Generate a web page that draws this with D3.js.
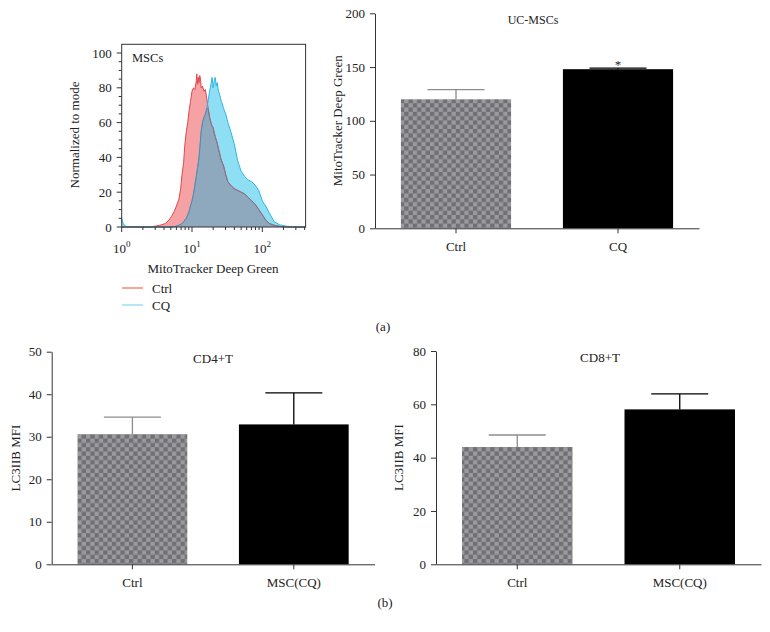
<!DOCTYPE html>
<html><head><meta charset="utf-8">
<script src="https://cdn.jsdelivr.net/npm/d3@7"></script>
<style>
body{margin:0;background:#fff}
svg text{font-family:"Liberation Serif","Times New Roman",serif;fill:#222}
</style>
</head><body>
<svg id="c" width="770" height="632"></svg>
<script>
// ---------- Histogram data (MSCs, MitoTracker Deep Green) ----------
const flGrid = [1,1.05,1.15,1.5,2.5,3.0,3.5,4.2,4.7,5.1,5.6,6.0,6.5,6.9,7.2,7.6,7.9,8.3,8.7,9.1,9.5,10,10.5,11,11.5,11.7,12,12.3,12.6,12.9,13.2,13.5,14.1,14.8,15.5,16.2,17,17.8,18.6,19.3,20,20.7,21.4,22.1,22.9,23.7,24.5,25.4,26.3,28.2,30.2,32.4,35.5,39.8,44.7,50.1,56.2,63.1,70.8,79.4,89.1,100,112,126,148,178,224,300,413];
const ctrlCounts = [0,0,0,0,0,0.5,1,2,4,6,9,12,16,22,30,37,47,55,60,67,72,78,80,79,84,88,82,86,83,87,85,80,81,78,79,74,68,63,60,58,57,54,52,50,48,45,43,40,38,35,30,26,24,22,21,20,19,17,15,13,10,7,4,2,1,0.3,0,0,0];
const cqCounts   = [5,2,0.3,0,0,0,0,0,0,0,0.2,0.5,1,1.5,2,3,4,5,7,9,12,15,19,24,29,31,34,37,40,45,50,55,60,63,65,68,73,78,82,86,80,84,86,81,83,78,77,74,72,68,65,60,55,48,38,32,29,27,26,24,21,15,12,8,3,1.2,0.4,0,0];
const histYTicks = [0,20,40,60,80,100];
const histYMinor = [5,10,15,25,30,35,45,50,55,65,70,75,85,90,95];
const histXTicks = [1,10,100];
const histXExp = ["0","1","2"];
const histXMinor = [2,3,4,5,6,7,8,9,20,30,40,50,60,70,80,90,200,300,400];
const legendNames = ["Ctrl","CQ"];

// ---------- Bar chart data ----------
const ucCategories = ["Ctrl","CQ"];
const ucMeans = [120,148];
const ucErrors = [9,1];
const ucTicks = [0,50,100,150,200];

const cd4Categories = ["Ctrl","MSC(CQ)"];
const cd4Means = [30.6,32.9];
const cd4Errors = [4.0,7.4];
const cd4Ticks = [0,10,20,30,40,50];

const cd8Categories = ["Ctrl","MSC(CQ)"];
const cd8Means = [44,58.1];
const cd8Errors = [4.5,5.8];
const cd8Ticks = [0,20,40,60,80];

const FONT = '"Liberation Serif","Times New Roman",serif';
const svg = d3.select("#c");

// checker pattern
const defs = svg.append("defs");
const pat = defs.append("pattern").attr("id","checker").attr("patternUnits","userSpaceOnUse")
  .attr("width",8.6).attr("height",8.6);
pat.append("rect").attr("width",8.6).attr("height",8.6).attr("fill","#9a9a9f");
pat.append("rect").attr("width",4.3).attr("height",4.3).attr("fill","#6f6f74");
pat.append("rect").attr("x",4.3).attr("y",4.3).attr("width",4.3).attr("height",4.3).attr("fill","#6f6f74");

// ---------- Histogram ----------
(function(){
  const x = d3.scaleLog().domain([1,413]).range([121.7,305.6]);
  const y = d3.scaleLinear().domain([0,105]).range([227,44.3]);
  const g = svg.append("g");
  const pts = flGrid.map((v,i)=>({x:v,c:ctrlCounts[i],q:cqCounts[i]}));
  const area = acc => d3.area().x(d=>x(d.x)).y0(y(0)).y1(d=>y(acc(d)));
  const line = acc => d3.line().x(d=>x(d.x)).y(d=>y(acc(d)));
  g.append("path").datum(pts).attr("d",area(d=>d.c)).attr("fill","#f6a2a4");
  g.append("path").datum(pts).attr("d",area(d=>d.q)).attr("fill","#8fdff4");
  g.append("path").datum(pts).attr("d",area(d=>Math.min(d.c,d.q))).attr("fill","#8ea9bd");
  g.append("path").datum(pts).attr("d",line(d=>d.c)).attr("fill","none").attr("stroke","#e0474d").attr("stroke-width",1);
  g.append("path").datum(pts).attr("d",line(d=>d.q)).attr("fill","none").attr("stroke","#2db6e2").attr("stroke-width",1);
  g.append("path").datum(pts).attr("d",line(d=>Math.min(d.c,d.q))).attr("fill","none").attr("stroke","#6f7b9a").attr("stroke-width",0.9);

  // box
  g.append("rect").attr("x",x(1)).attr("y",y(105)).attr("width",x(413)-x(1)).attr("height",y(0)-y(105))
    .attr("fill","none").attr("stroke","#333").attr("stroke-width",1);
  // y ticks
  g.selectAll(".ymaj").data(histYTicks).join("line").attr("x1",x(1)-5).attr("x2",x(1))
    .attr("y1",d=>y(d)).attr("y2",d=>y(d)).attr("stroke","#333");
  g.selectAll(".ymin").data(histYMinor).join("line").attr("x1",x(1)-3).attr("x2",x(1))
    .attr("y1",d=>y(d)).attr("y2",d=>y(d)).attr("stroke","#333");
  g.selectAll(".ylab").data(histYTicks).join("text").attr("x",x(1)-10).attr("y",d=>y(d)).attr("dy","0.35em")
    .attr("text-anchor","end").attr("font-size",13).text(d=>d);
  // x ticks
  g.selectAll(".xmaj").data(histXTicks).join("line").attr("x1",d=>x(d)).attr("x2",d=>x(d))
    .attr("y1",y(0)).attr("y2",y(0)+5).attr("stroke","#333");
  g.selectAll(".xmin").data(histXMinor).join("line").attr("x1",d=>x(d)).attr("x2",d=>x(d))
    .attr("y1",y(0)).attr("y2",y(0)+3).attr("stroke","#333");
  const xl = g.selectAll(".xlab").data(histXTicks).join("text").attr("x",d=>x(d)).attr("y",253)
    .attr("text-anchor","middle").attr("font-size",13);
  xl.append("tspan").text("10");
  xl.append("tspan").attr("dy",-6).attr("font-size",9).text((d,i)=>histXExp[i]);

  g.append("text").attr("x",132).attr("y",62).attr("font-size",12.5).text("MSCs");
  g.append("text").attr("transform","translate(79,135) rotate(-90)").attr("text-anchor","middle")
    .attr("font-size",13).text("Normalized to mode");
  g.append("text").attr("x",213).attr("y",273).attr("text-anchor","middle").attr("font-size",13).text("MitoTracker Deep Green");
  // legend
  const legColors = ["#ee6e45","#86d6ef"];
  legendNames.forEach((n,i)=>{
    const yy = 288 + i*17;
    g.append("line").attr("x1",122).attr("x2",143).attr("y1",yy).attr("y2",yy).attr("stroke",legColors[i]).attr("stroke-width",1.2);
    g.append("text").attr("x",152).attr("y",yy+4.5).attr("font-size",13).text(n);
  });
})();

// ---------- Bar charts ----------
function barChart(o){
  const g = svg.append("g");
  const x = d3.scaleBand().domain(o.cats).range([o.x0,o.x1]).paddingInner(0.32).paddingOuter(0.16);
  const y = d3.scaleLinear().domain([0,o.max]).range([o.yb,o.yt]);
  const data = o.cats.map((c,i)=>({c,m:o.means[i],e:o.errs[i],i}));
  // bars
  g.selectAll(".bar").data(data).join("rect")
    .attr("x",d=>x(d.c)).attr("width",x.bandwidth())
    .attr("y",d=>y(d.m)).attr("height",d=>y(0)-y(d.m))
    .attr("fill",d=>d.i===0?"url(#checker)":"#000");
  // error bars
  const cap = 57;
  data.forEach(d=>{
    const cx = x(d.c)+x.bandwidth()/2;
    const col = d.i===0?"#8c8c8c":"#000";
    g.append("line").attr("x1",cx).attr("x2",cx).attr("y1",y(d.m)).attr("y2",y(d.m+d.e)).attr("stroke",col).attr("stroke-width",1.3);
    g.append("line").attr("x1",cx-cap/2).attr("x2",cx+cap/2).attr("y1",y(d.m+d.e)).attr("y2",y(d.m+d.e)).attr("stroke",col).attr("stroke-width",1.3);
  });
  // axes
  const ya = g.append("g").attr("transform",`translate(${o.x0},0)`)
    .call(d3.axisLeft(y).tickValues(o.ticks).tickSize(5).tickPadding(5).tickSizeOuter(0));
  const xa = g.append("g").attr("transform",`translate(0,${o.yb})`)
    .call(d3.axisBottom(x).tickSize(5).tickPadding(8).tickSizeOuter(0));
  [ya,xa].forEach(a=>{
    a.attr("font-family",FONT).attr("font-size",13);
    a.selectAll("path,line").attr("stroke","#333");
    a.selectAll("text").attr("fill","#222");
  });
  g.append("text").attr("x",o.titleX).attr("y",o.yt+11).attr("text-anchor","middle").attr("font-size",o.titleSize||13).text(o.title);
  g.append("text").attr("transform",`translate(${o.labelX},${(o.yt+o.yb)/2}) rotate(-90)`)
    .attr("text-anchor","middle").attr("font-size",13).text(o.ylabel);
  if(o.sig){
    const d = data[o.sig.i];
    g.append("text").attr("x",x(d.c)+x.bandwidth()/2).attr("y",y(d.m+d.e)+1).attr("text-anchor","middle")
      .attr("font-size",13).text(o.sig.t);
  }
}

barChart({x0:375,x1:699,yt:13.3,yb:228.3,max:200,ticks:ucTicks,cats:ucCategories,means:ucMeans,errs:ucErrors,
  title:"UC-MSCs",titleX:533,titleSize:12,ylabel:"MitoTracker Deep Green",labelX:342,sig:{i:1,t:"*"}});
barChart({x0:51.7,x1:374.5,yt:351.7,yb:564.3,max:50,ticks:cd4Ticks,cats:cd4Categories,means:cd4Means,errs:cd4Errors,
  title:"CD4+T",titleX:213,ylabel:"LC3IIB MFI",labelX:20});
barChart({x0:436,x1:761,yt:351,yb:564.3,max:80,ticks:cd8Ticks,cats:cd8Categories,means:cd8Means,errs:cd8Errors,
  title:"CD8+T",titleX:600,ylabel:"LC3IIB MFI",labelX:403});

svg.append("text").attr("x",383).attr("y",331).attr("text-anchor","middle").attr("font-size",13).text("(a)");
svg.append("text").attr("x",385).attr("y",607).attr("text-anchor","middle").attr("font-size",13).text("(b)");
</script>
</body></html>
